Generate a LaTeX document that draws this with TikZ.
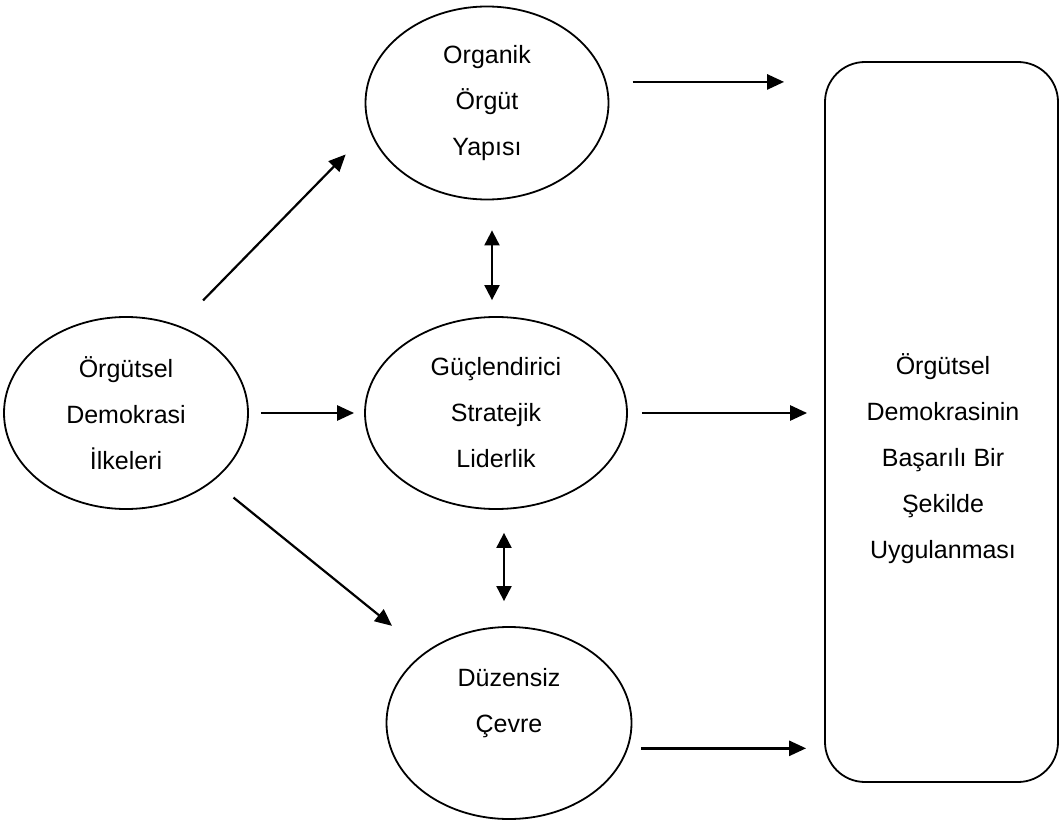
\documentclass[tikz,border=0pt]{standalone}
\usepackage{fontspec}
\setmainfont{Liberation Sans}
\usetikzlibrary{shapes.geometric,arrows.meta,positioning,calc}

\begin{document}
\begin{tikzpicture}[x=1pt, y=-1pt,
    oval/.style={ellipse, draw, line width=1.8pt, align=center, inner sep=0pt, font=\fontsize{25}{46}\selectfont},
    box/.style={rectangle, draw, line width=1.8pt, rounded corners=40pt, minimum width=233pt, minimum height=720pt},
    boxtext/.style={align=center, font=\fontsize{25}{46}\selectfont},
    arrow/.style={-{Triangle[length=17pt, width=15pt]}, line width=2.6pt},
    darrow/.style={{Triangle[length=15pt, width=15pt]}-{Triangle[length=15pt, width=15pt]}, line width=2pt}
]
    \fill[white] (0,0) rectangle (1060,821);
    \useasboundingbox (0,0) rectangle (1060,821);

    \node[oval, minimum width=243pt, minimum height=193pt] (org) at (487,103) {Organik\\Örgüt\\Yapısı};
    \node[oval, minimum width=244pt, minimum height=192pt] (ilke) at (126,413) {Örgütsel\\Demokrasi\\İlkeleri};
    \node[oval, minimum width=262pt, minimum height=192pt] (guc) at (496,413) {Güçlendirici\\Stratejik\\Liderlik};
    \node[oval, minimum width=245pt, minimum height=192pt] (duz) at (509,723) {Düzensiz\\Çevre\\\mbox{}};
    \node[box] (sonuc) at (941.5,422) {};
    \node[boxtext] (sonuctext) at (943,459) {Örgütsel\\Demokrasinin\\Başarılı Bir\\Şekilde\\Uygulanması};

    % to the result box
    \draw[arrow, shorten <=26pt, shorten >=40pt] (org.10) -- (org.10 -| sonuc.west);
    \draw[arrow, shorten <=14pt, shorten >=17pt] (guc.east) -- (guc.east -| sonuc.west);
    \draw[arrow, shorten <=13pt, shorten >=18pt] (duz.-12) -- (duz.-12 -| sonuc.west);

    % from the principles
    \draw[arrow, line width=2.2pt, shorten <=35pt, shorten >=34pt] (ilke.59) -- (org.193.5);
    \draw[arrow, shorten <=12pt, shorten >=10pt] (ilke.east) -- (guc.west);
    \draw[arrow, line width=2.2pt, shorten <=26pt, shorten >=42pt] (ilke.-38) -- (duz.140.6);

    % two-way links
    \draw[darrow, shorten <=30pt, shorten >=16pt] ([xshift=5pt]org.south) -- ([xshift=-4pt]guc.north);
    \draw[darrow, shorten <=23pt, shorten >=25pt] ([xshift=8pt]guc.south) -- ([xshift=-5pt]duz.north);
\end{tikzpicture}
\end{document}
